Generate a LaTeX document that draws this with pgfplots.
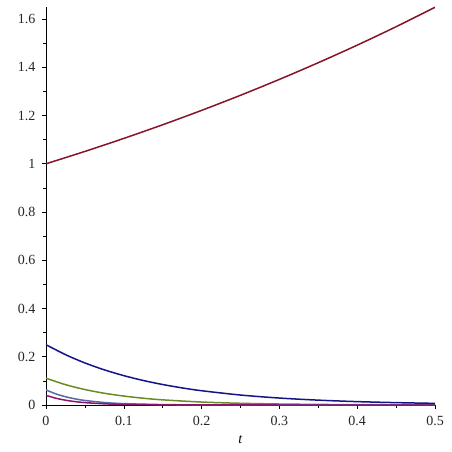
\documentclass[border=0pt]{standalone}
\usepackage{pgfplots}
\pgfplotsset{compat=1.18}
\usepackage{fontspec}
\setmainfont{Liberation Serif}
\definecolor{cred}{RGB}{135,20,40}
\definecolor{cblue}{RGB}{20,20,135}
\definecolor{cgreen}{RGB}{105,140,35}
\definecolor{cpurple}{RGB}{85,105,165}
\definecolor{cmag}{RGB}{140,20,110}
\begin{document}
\begin{tikzpicture}
\begin{axis}[
  scale only axis,
  width=389pt, height=398pt,
  xmin=0, xmax=0.5, ymin=0, ymax=1.65,
  axis lines=left,
  axis line style={-, black, line width=0.7pt},
  tick align=outside,
  major tick length=4pt, minor tick length=2.5pt,
  xtick={0,0.1,0.2,0.3,0.4,0.5},
  ytick={0,0.2,0.4,0.6,0.8,1,1.2,1.4,1.6},
  minor x tick num=1, minor y tick num=1,
  xticklabels={0,0.1,0.2,0.3,0.4,0.5},
  yticklabels={0,0.2,0.4,0.6,0.8,1,1.2,1.4,1.6},
  every tick label/.append style={font=\fontsize{14}{16}\selectfont, text=black!85},
  xticklabel style={yshift=-4pt},
  yticklabel style={xshift=-3pt},
  xlabel={\textit{t}},
  xlabel style={font=\fontsize{14}{16}\selectfont, yshift=-3pt},
  every tick/.style={black, line width=0.6pt},
  clip=true,
]
\coordinate (SW) at (rel axis cs:0,0);
\coordinate (NE) at (rel axis cs:1,1);
\addplot[cred, line width=1.5pt, smooth] coordinates {
(0,1) (0.05,1.0513) (0.1,1.1052) (0.15,1.1618) (0.2,1.2214) (0.25,1.2840)
(0.3,1.3499) (0.35,1.4191) (0.4,1.4918) (0.45,1.5683) (0.5,1.6487)};
\addplot[cgreen, line width=1.5pt, smooth] coordinates {
(0,0.1111) (0.025,0.0844) (0.05,0.0641) (0.075,0.0487) (0.1,0.0370) (0.125,0.0281)
(0.15,0.0213) (0.2,0.0123) (0.25,0.0071) (0.3,0.0041) (0.35,0.0024) (0.4,0.0014) (0.5,0.0005)};
\addplot[cpurple, line width=1.5pt, smooth] coordinates {
(0,0.0625) (0.0125,0.0463) (0.025,0.0343) (0.0375,0.0254) (0.05,0.0188) (0.075,0.0103)
(0.1,0.0057) (0.15,0.0017) (0.2,0.0005) (0.3,0.0001) (0.5,0)};
\addplot[cmag, line width=1.5pt, smooth] coordinates {
(0,0.04) (0.0125,0.0282) (0.025,0.0199) (0.0375,0.0140) (0.05,0.0099) (0.075,0.0049)
(0.1,0.0024) (0.15,0.0006) (0.2,0.0001) (0.3,0) (0.5,0)};
\addplot[cblue, line width=1.5pt, smooth] coordinates {
(0,0.25) (0.025,0.2088) (0.05,0.1744) (0.075,0.1457) (0.1,0.1217) (0.125,0.1016)
(0.15,0.0849) (0.175,0.0709) (0.2,0.0592) (0.25,0.0413) (0.3,0.0288) (0.35,0.0201)
(0.4,0.0140) (0.45,0.0098) (0.5,0.0068)};
\end{axis}
\path (SW) ++(-46pt,-47pt) coordinate (bl);
\path (NE) ++(17pt,7pt) coordinate (tr);
\useasboundingbox (bl) rectangle (tr);
\end{tikzpicture}
\end{document}
